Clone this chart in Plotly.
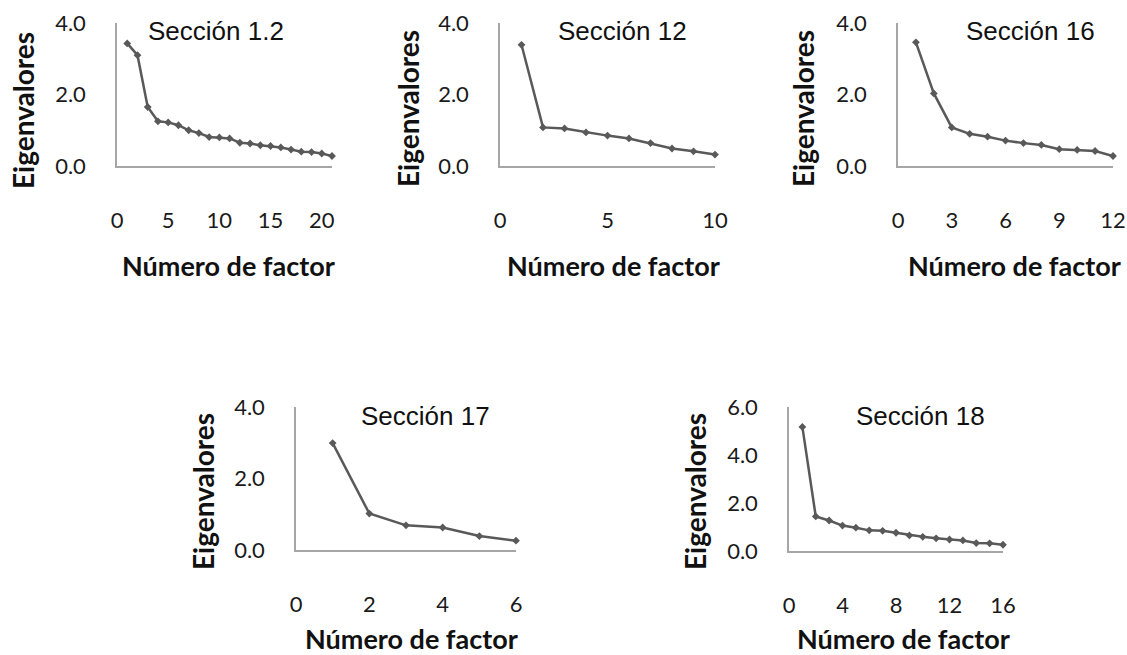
import plotly.graph_objects as go

# ---- data ----
sec12_vals = [3.43, 3.10, 1.65, 1.25, 1.22, 1.14, 1.00, 0.92, 0.81, 0.80, 0.77,
              0.65, 0.63, 0.58, 0.56, 0.52, 0.46, 0.40, 0.39, 0.35, 0.28]
sec12b_vals = [3.39, 1.08, 1.05, 0.94, 0.85, 0.77, 0.64, 0.49, 0.41, 0.32]
sec16_vals = [3.46, 2.03, 1.08, 0.90, 0.82, 0.71, 0.64, 0.59, 0.47, 0.45, 0.42, 0.28]
sec17_vals = [2.99, 1.02, 0.69, 0.63, 0.39, 0.26]
sec18_vals = [5.17, 1.44, 1.27, 1.06, 0.97, 0.86, 0.84, 0.76, 0.65, 0.59, 0.53,
              0.48, 0.44, 0.33, 0.32, 0.26]

titles = ["Sección 1.2", "Sección 12", "Sección 16", "Sección 17", "Sección 18"]
series = [sec12_vals, sec12b_vals, sec16_vals, sec17_vals, sec18_vals]
x_dtick = [5, 5, 3, 2, 4]
x_max = [21, 10, 12, 6, 16]
y_max = [4, 4, 4, 4, 6]
y_title = "Eigenvalores"
x_title = "Número de factor"

W, H = 1127, 655


def px_x(p):
    return p / W


def px_y(p):
    return 1 - p / H


# plot areas in page pixels: (left, right, top, bottom)
boxes = [(117, 332, 23, 166), (500, 715, 23, 166), (898, 1113, 23, 166),
         (296, 516, 407, 550), (789, 1003, 407, 551)]
title_pos = [(216, 31), (622, 31), (1030, 31), (425, 416), (920, 416)]
ytitle_pos = [(23, 111), (408, 109), (803, 109), (203, 492), (695, 492)]
xtitle_pos = [(228, 265), (613, 265), (1014, 265), (411, 638), (903, 638)]

line_col = "#595959"
axis_col = "#A6A6A6"
tick_font = dict(family="Lato", size=22, color="#1a1a1a")
xt_font = dict(family="Lato", size=27, color="#111111", weight="bold")
yt_font = dict(family="Lato", size=28, color="#111111", weight="bold")
title_font = dict(family="Liberation Sans", size=26, color="#111111")

fig = go.Figure()
annotations = []
for i, vals in enumerate(series):
    n = i + 1
    xs = list(range(1, len(vals) + 1))
    xa = "x" if n == 1 else f"x{n}"
    ya = "y" if n == 1 else f"y{n}"
    fig.add_trace(go.Scatter(
        x=xs, y=vals, mode="lines+markers", xaxis=xa, yaxis=ya,
        line=dict(color=line_col, width=2.5),
        marker=dict(symbol="diamond", size=6, color=line_col),
        cliponaxis=False, showlegend=False))
    l, r, t, b = boxes[i]
    xkey = "xaxis" if n == 1 else f"xaxis{n}"
    ykey = "yaxis" if n == 1 else f"yaxis{n}"
    fig.layout[xkey] = dict(
        domain=[px_x(l), px_x(r)], anchor=ya, range=[0, x_max[i]],
        tickmode="linear", tick0=0, dtick=x_dtick[i],
        showline=True, linecolor=axis_col, linewidth=1.5,
        showgrid=False, zeroline=False, ticks="", tickfont=tick_font,
        ticklabelstandoff=34, automargin=False, fixedrange=True)
    fig.layout[ykey] = dict(
        domain=[px_y(b), px_y(t)], anchor=xa, range=[0, y_max[i]],
        tickmode="linear", tick0=0, dtick=2, tickformat=".1f",
        showline=True, linecolor=axis_col, linewidth=1.5,
        showgrid=False, zeroline=False, ticks="", tickfont=tick_font,
        ticklabelstandoff=25, automargin=False, fixedrange=True)
    tx, ty = title_pos[i]
    annotations.append(dict(text=titles[i], x=px_x(tx), y=px_y(ty),
                            xref="paper", yref="paper", showarrow=False,
                            xanchor="center", yanchor="middle", font=title_font))
    yx, yy = ytitle_pos[i]
    annotations.append(dict(text=y_title, x=px_x(yx), y=px_y(yy),
                            xref="paper", yref="paper", showarrow=False,
                            textangle=-90, xanchor="center", yanchor="middle",
                            font=yt_font))
    xx, xy = xtitle_pos[i]
    annotations.append(dict(text=x_title, x=px_x(xx), y=px_y(xy),
                            xref="paper", yref="paper", showarrow=False,
                            xanchor="center", yanchor="middle", font=xt_font))

fig.update_layout(width=W, height=H, autosize=False,
                  margin=dict(l=0, r=0, t=0, b=0, pad=0),
                  plot_bgcolor="white", paper_bgcolor="white",
                  hovermode=False, annotations=annotations)
fig.write_html(
    "out.html",
    config={"displayModeBar": False, "responsive": False},
    post_script="document.body.style.margin='0';"
                "document.body.style.overflow='hidden';")
